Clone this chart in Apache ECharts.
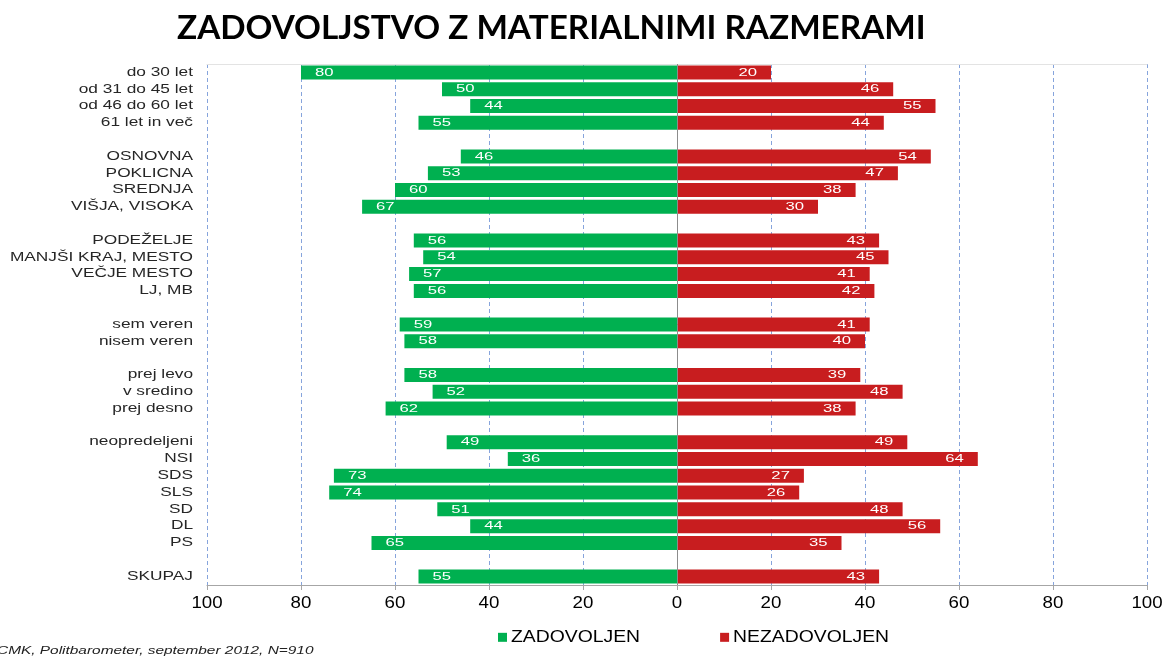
<!DOCTYPE html>
<html><head><meta charset="utf-8">
<script src="https://cdn.jsdelivr.net/npm/echarts@6/dist/echarts.min.js"></script>
<style>html,body{margin:0;padding:0;background:#fff}#c{width:1166px;height:656px}</style>
</head><body><div id="c"></div>
<script>
const categories = ['do 30 let','od 31 do 45 let','od 46 do 60 let','61 let in več',' ',
 'OSNOVNA','POKLICNA','SREDNJA','VIŠJA, VISOKA','  ',
 'PODEŽELJE','MANJŠI KRAJ, MESTO','VEČJE MESTO','LJ, MB','   ',
 'sem veren','nisem veren','    ',
 'prej levo','v sredino','prej desno','     ',
 'neopredeljeni','NSI','SDS','SLS','SD','DL','PS','      ',
 'SKUPAJ'];
const zadovoljen = [80,50,44,55,null,46,53,60,67,null,56,54,57,56,null,59,58,null,58,52,62,null,49,36,73,74,51,44,65,null,55];
const nezadovoljen = [20,46,55,44,null,54,47,38,30,null,43,45,41,42,null,41,40,null,39,48,38,null,49,64,27,26,48,56,35,null,43];
const seriesNames = ['ZADOVOLJEN','NEZADOVOLJEN'];
const title = 'ZADOVOLJSTVO Z MATERIALNIMI RAZMERAMI';
const source = 'CMK, Politbarometer, september 2012, N=910';

// The reference text is horizontally stretched; emulate it by scaling glyphs
// for fonts whose family list carries an "sxNNN" marker (NNN = percent).
(function(){
  const P = CanvasRenderingContext2D.prototype;
  const getS = f => { const m = /sx(\d+)/.exec(f || ''); return m ? m[1] / 100 : 1; };
  const ft = P.fillText, st = P.strokeText, mt = P.measureText;
  P.fillText = function(t, x, y, mw){
    const s = getS(this.font);
    if (s === 1) return mw === undefined ? ft.call(this, t, x, y) : ft.call(this, t, x, y, mw);
    this.save(); this.translate(x, y); this.scale(s, 1); ft.call(this, t, 0, 0); this.restore();
  };
  P.strokeText = function(t, x, y, mw){
    const s = getS(this.font);
    if (s === 1) return mw === undefined ? st.call(this, t, x, y) : st.call(this, t, x, y, mw);
    this.save(); this.translate(x, y); this.scale(s, 1); st.call(this, t, 0, 0); this.restore();
  };
  P.measureText = function(t){
    const m = mt.call(this, t); const s = getS(this.font);
    if (s === 1) return m;
    return {width: m.width * s,
      actualBoundingBoxAscent: m.actualBoundingBoxAscent, actualBoundingBoxDescent: m.actualBoundingBoxDescent,
      actualBoundingBoxLeft: m.actualBoundingBoxLeft * s, actualBoundingBoxRight: m.actualBoundingBoxRight * s,
      fontBoundingBoxAscent: m.fontBoundingBoxAscent, fontBoundingBoxDescent: m.fontBoundingBoxDescent};
  };
})();

const F = s => 'sx' + s + ', "Liberation Sans", Arial, sans-serif';
const chart = echarts.init(document.getElementById('c'), null, {renderer:'canvas'});
chart.setOption({
  animation:false,
  title:{text:title,left:172,top:7,textStyle:{fontFamily:'Lato, "Open Sans", sans-serif',fontWeight:'bold',fontSize:33.3,color:'#000'}},
  grid:{left:207,right:19,top:64,bottom:71,containLabel:false},
  legend:{bottom:4,left:493,itemGap:80,itemWidth:9,itemHeight:9,icon:'rect',
    textStyle:{fontFamily:F(121),fontSize:16,color:'#000',padding:[0,0,0,-1]},data:seriesNames},
  graphic:[{type:'text',left:-3,bottom:-3,style:{text:source,fontFamily:F(134),fontStyle:'italic',fontSize:11.5,fill:'#222'}}],
  xAxis:[{type:'value',min:-100,max:100,interval:20,
    axisLine:{show:true,lineStyle:{color:'#a6a6a6',width:1}},
    axisTick:{show:true,length:5,lineStyle:{color:'#a6a6a6'}},
    axisLabel:{formatter:v=>Math.abs(v),fontFamily:F(110),fontSize:17,color:'#000',margin:9},
    splitLine:{show:true,lineStyle:{color:'#86a4dc',type:[4,3],width:1}}},
    {type:'value',position:'top',min:-100,max:100,interval:20,
    axisLine:{show:true,lineStyle:{color:'#e3e3e3',width:1}},axisTick:{show:false},axisLabel:{show:false},splitLine:{show:false}}],
  yAxis:{type:'category',inverse:true,data:categories,
    axisLine:{show:false},axisTick:{show:false},
    axisLabel:{interval:0,fontFamily:F(144),fontSize:12,color:'#262626',margin:14}},
  series:[
    {name:seriesNames[0],type:'bar',stack:'s',barWidth:14,
     data:zadovoljen.map(v=>v==null?null:-v),
     itemStyle:{color:'#00B050'},
     label:{show:true,position:'insideLeft',distance:14,color:'#fff',fontFamily:F(145),fontSize:11.5,formatter:p=>Math.abs(p.value)},
     markLine:{silent:true,symbol:'none',label:{show:false},lineStyle:{color:'#8c8c8c',type:'solid',width:1},data:[{xAxis:0}]}},
    {name:seriesNames[1],type:'bar',stack:'s',barWidth:14,
     data:nezadovoljen,
     itemStyle:{color:'#C81D1F'},
     label:{show:true,position:'insideRight',distance:14,color:'#fff',fontFamily:F(145),fontSize:11.5}}
  ]
});
</script></body></html>
